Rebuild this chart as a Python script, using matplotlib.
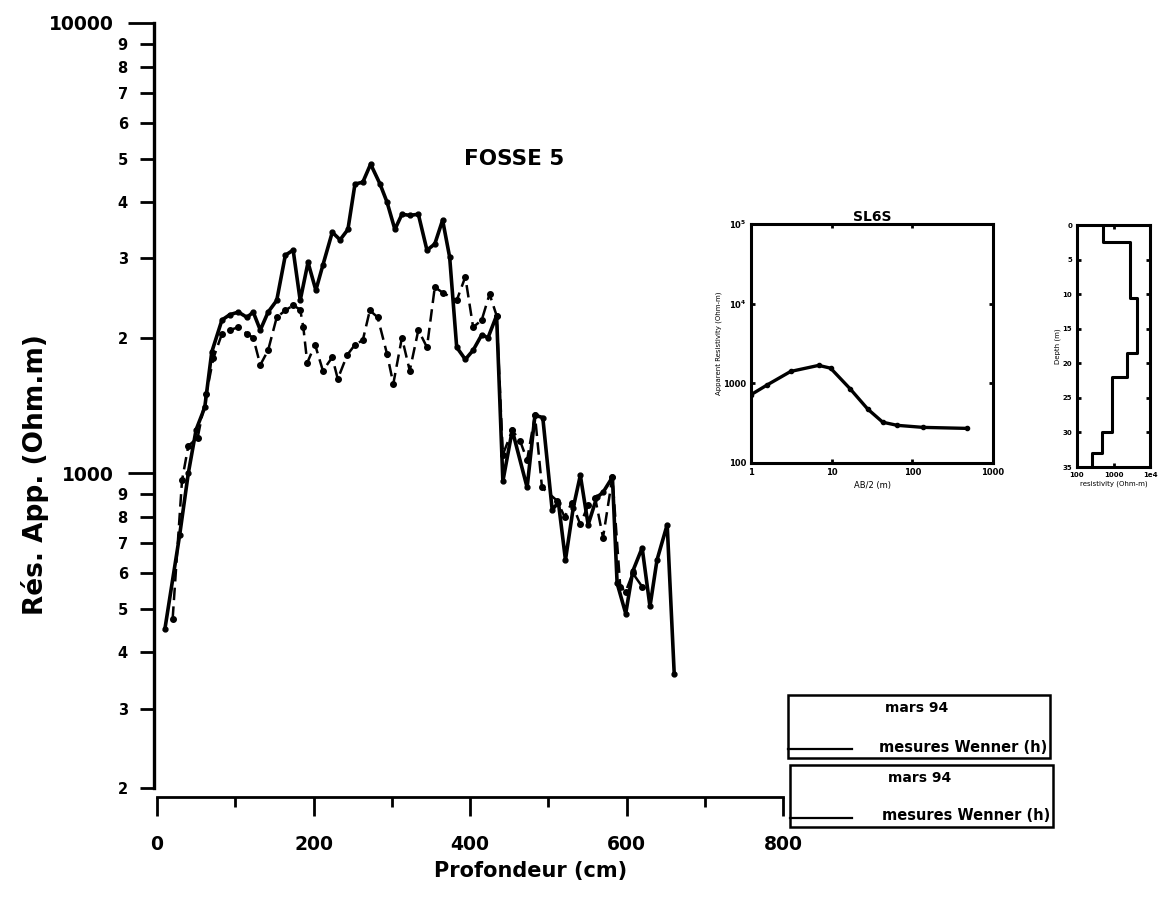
import numpy as np
import matplotlib
matplotlib.use("Agg")
import matplotlib.pyplot as plt
from matplotlib.ticker import FixedLocator, FixedFormatter, NullFormatter, NullLocator
from matplotlib.patches import Rectangle
from matplotlib.lines import Line2D

plt.rcParams['font.family'] = ['DejaVu Sans']
plt.rcParams['font.weight'] = 'bold'

# DATA

# mars 94 (trait plein)
x_solid = [10, 29, 40, 50, 61, 70, 83, 93, 104, 115, 123, 132, 142, 153, 164, 174, 183,
           193, 203, 212, 224, 234, 244, 253, 263, 273, 285, 294, 304, 313, 323, 334, 345,
           355, 365, 374, 383, 394, 404, 415, 423, 434, 442, 454, 473, 483, 493, 505, 513,
           522, 532, 541, 551, 562, 570, 582, 588, 599, 608, 620, 630, 639, 652, 661]
r_solid = [450, 730, 1000, 1250, 1400, 1860, 2190, 2250, 2280, 2220, 2280, 2080, 2280, 2420,
           3050, 3130, 2420, 2940, 2550, 2900, 3430, 3300, 3480, 4390, 4430, 4860, 4390, 4000,
           3480, 3760, 3740, 3760, 3130, 3230, 3650, 3020, 1905, 1790, 1876, 2030, 2000, 2240,
           960, 1246, 930, 1345, 1330, 830, 861, 642, 839, 990, 769, 884, 907, 980, 570, 488,
           606, 683, 506, 642, 769, 358]

# mesures Wenner (tirets)
x_dash = [20, 32, 40, 52, 63, 72, 83, 93, 104, 115, 123, 132, 142, 153, 164, 174, 183, 187,
          192, 202, 212, 224, 231, 243, 253, 263, 272, 282, 294, 302, 313, 323, 334, 345,
          355, 365, 383, 394, 404, 415, 425, 434, 442, 454, 464, 473, 483, 492, 511, 521,
          530, 541, 551, 560, 570, 582, 592, 599, 608, 620]
r_dash = [475, 965, 1150, 1200, 1500, 1800, 2040, 2080, 2110, 2040, 2000, 1740, 1876, 2220,
          2300, 2360, 2310, 2110, 1760, 1930, 1690, 1810, 1620, 1830, 1930, 1975, 2300, 2220,
          1840, 1580, 2000, 1690, 2080, 1905, 2590, 2520, 2420, 2730, 2110, 2190, 2500, 2240,
          1100, 1246, 1180, 1070, 1345, 930, 870, 800, 860, 770, 850, 880, 720, 980, 560,
          546, 600, 560]

# sondage SL6S
ab2 = [1, 1.6, 3.1, 6.9, 9.7, 17, 28, 43, 65, 136, 470]
rho_app = [720, 960, 1410, 1680, 1550, 850, 475, 325, 297, 280, 272]

# modele de couches
layer_top = [0, 2.5, 10.5, 18.5, 22, 30, 33]
layer_bot = [2.5, 10.5, 18.5, 22, 30, 33, 35]
layer_rho = [515, 2800, 4400, 2350, 910, 480, 260]

y_major = [1000, 10000]
y_minor = [200, 300, 400, 500, 600, 700, 800, 900,
           2000, 3000, 4000, 5000, 6000, 7000, 8000, 9000]
y_minor_labels = ['2', '3', '4', '5', '6', '7', '8', '9',
                  '2', '3', '4', '5', '6', '7', '8', '9']

W, H = 1161, 897
fig = plt.figure(figsize=(W / 100, H / 100), dpi=100)


def fx(px):
    return px / W


def fy(py):
    return 1 - py / H


# MAIN PLOT
ax = fig.add_axes([fx(157), fy(788), fx(626), 765 / H])
ax.plot(x_solid, r_solid, '-', color='black', lw=2.6, marker='o', ms=3.5)
ax.plot(x_dash, r_dash, color='black', lw=1.8, ls=(0, (5, 2.5)), marker='o', ms=4)
ax.set_yscale('log')
ax.set_ylim(200, 10000)
ax.set_xlim(0, 800)

ax.yaxis.set_major_locator(FixedLocator(y_major))
ax.yaxis.set_major_formatter(FixedFormatter(['1000', '10000']))
ax.yaxis.set_minor_locator(FixedLocator(y_minor))
ax.yaxis.set_minor_formatter(FixedFormatter(y_minor_labels))
ax.set_xticks([0, 200, 400, 600, 800])
ax.set_xticks([100, 300, 500, 700], minor=True)

for s in ['top', 'right']:
    ax.spines[s].set_visible(False)
ax.spines['left'].set_linewidth(2.4)
ax.spines['left'].set_position(('outward', 2))
ax.spines['bottom'].set_linewidth(2.0)
ax.spines['bottom'].set_position(('outward', 6.5))

ax.tick_params(axis='y', which='major', length=19, width=2, pad=10, labelsize=13.5)
ax.tick_params(axis='y', which='minor', length=10, width=2, pad=9, labelsize=10.5)
ax.tick_params(axis='x', which='major', length=14, width=2, pad=13, labelsize=13.5)
ax.tick_params(axis='x', which='minor', length=7, width=2)

ax.set_xlabel('Profondeur (cm)', fontsize=15, fontweight='bold')
ax.xaxis.set_label_coords(0.596, -0.095)
ax.set_ylabel('Rés. App. (Ohm.m)', fontsize=19, fontweight='bold')
ax.yaxis.set_label_coords(-0.172, 0.41)
ax.text(457, 5000, 'FOSSE 5', fontsize=15.5, fontweight='bold', ha='center', va='center')

# INSET SL6S
ax1 = fig.add_axes([fx(751), fy(463), fx(242), 239 / H])
ax1.plot(ab2, rho_app, '-', color='black', lw=2.4, marker='o', ms=3)
ax1.set_xscale('log')
ax1.set_yscale('log')
ax1.set_xlim(1, 1000)
ax1.set_ylim(100, 100000)
ax1.set_xticks([1, 10, 100, 1000])
ax1.set_xticklabels(['1', '10', '100', '1000'])
ax1.set_yticks([100, 1000, 10000, 100000])
ax1.set_yticklabels(['100', '1000', r'10$^4$', r'10$^5$'])
ax1.xaxis.set_minor_locator(NullLocator())
ax1.yaxis.set_minor_locator(NullLocator())
ax1.tick_params(which='both', direction='in', top=True, right=True, labelsize=6,
                width=2, length=3)
for s in ax1.spines.values():
    s.set_linewidth(2.2)
ax1.set_title('SL6S', fontsize=10, fontweight='bold', pad=1)
ax1.set_xlabel('AB/2 (m)', fontsize=6, labelpad=3)
ax1.set_ylabel('Apparent Resistivity (Ohm-m)', fontsize=5, labelpad=1)

# INSET MODELE
ax2 = fig.add_axes([fx(1077), fy(467), fx(73), 242 / H])
sx, sy = [], []
for t, b, r in zip(layer_top, layer_bot, layer_rho):
    sx += [r, r]
    sy += [t, b]
ax2.plot(sx, sy, color='black', lw=2.2)
ax2.set_xscale('log')
ax2.set_xlim(100, 10000)
ax2.set_ylim(35, 0)
ax2.set_yticks([0, 5, 10, 15, 20, 25, 30, 35])
ax2.set_xticks([100, 1000, 10000])
ax2.set_xticklabels(['100', '1000', '1e4'])
ax2.xaxis.set_minor_locator(NullLocator())
ax2.tick_params(which='both', direction='in', right=True, top=True, labelsize=5,
                width=2, length=3)
for s in ax2.spines.values():
    s.set_linewidth(2.2)
ax2.set_xlabel('resistivity (Ohm-m)', fontsize=5, labelpad=2)
ax2.set_ylabel('Depth (m)', fontsize=5, labelpad=1)

# LEGENDE (deux cadres)
for (x0, y0, x1, y1) in [(788, 695, 1050, 758), (790, 765, 1053, 827)]:
    fig.patches.append(Rectangle((fx(x0), fy(y1)), fx(x1 - x0), (y1 - y0) / H,
                                 transform=fig.transFigure, fill=False,
                                 edgecolor='black', lw=1.8))
    fig.text(fx((x0 + x1) / 2 - 2), fy(y0 + 13), 'mars 94', fontsize=10,
             fontweight='bold', ha='center', va='center')
    fig.text(fx(x1 - 3), fy(y1 - 11), 'mesures Wenner (h)', fontsize=10.5,
             fontweight='bold', ha='right', va='center')
    fig.lines.append(Line2D([fx(x0), fx(852)], [fy(y1 - 9), fy(y1 - 9)],
                            transform=fig.transFigure, color='black', lw=1.6))

fig.savefig('out.png', dpi=100)
